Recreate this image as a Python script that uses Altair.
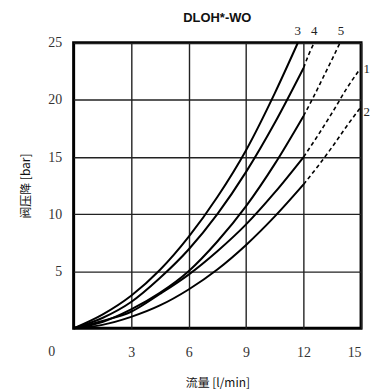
import altair as alt
import pandas as pd

# ---- data ----
x_std = [0, 1.5, 3, 4.5, 6, 7.5, 9, 10.5, 12]

c3_x = [0, 1.5, 3, 4.5, 6, 7.5, 9, 10.5, 11.7]
c3_y = [0, 1.2, 2.85, 5.1, 8.0, 11.5, 15.6, 20.6, 25.0]

c4_y = [0, 0.9, 2.3, 4.4, 6.9, 10.0, 13.7, 18.0, 22.8]
c4_dx = [12, 12.25, 12.55]
c4_dy = [22.8, 23.9, 25.0]

c5_y = [0, 0.55, 1.65, 3.1, 5.0, 7.6, 10.7, 14.4, 18.6]
c5_dx = [12, 12.5, 13, 13.5, 13.9]
c5_dy = [18.6, 20.2, 21.9, 23.6, 25.0]

c1_y = [0, 0.65, 1.45, 3.0, 4.7, 6.75, 9.1, 11.9, 15.0]
c1_dx = [12, 12.75, 13.5, 14.25, 14.9]
c1_dy = [15.0, 16.9, 18.9, 21.0, 22.6]

c2_y = [0, 0.3, 1.0, 2.0, 3.4, 5.15, 7.3, 9.8, 12.6]
c2_dx = [12, 12.75, 13.5, 14.25, 15]
c2_dy = [12.6, 14.2, 15.9, 17.7, 19.4]

curve_labels = ["3", "4", "5", "1", "2"]
label_x = [11.7, 12.55, 13.95, 15.3, 15.3]
label_y = [26.0, 26.0, 26.0, 22.7, 18.9]

x_ticks = [3, 6, 9, 12, 15]
y_ticks = [5, 10, 15, 20, 25]

rows = []
def add(name, style, xs, ys):
    for i, (a, b) in enumerate(zip(xs, ys)):
        rows.append(dict(curve=name, style=style, q=a, p=b, i=i))

add("3", "solid", c3_x, c3_y)
add("4", "solid", x_std, c4_y)
add("5", "solid", x_std, c5_y)
add("1", "solid", x_std, c1_y)
add("2", "solid", x_std, c2_y)
add("4", "dashed", c4_dx, c4_dy)
add("5", "dashed", c5_dx, c5_dy)
add("1", "dashed", c1_dx, c1_dy)
add("2", "dashed", c2_dx, c2_dy)
df = pd.DataFrame(rows)

lab_df = pd.DataFrame({"t": curve_labels, "q": label_x, "p": label_y})
zero_df = pd.DataFrame({"t": ["0"], "q": [0], "p": [0]})

xs = alt.Scale(domain=[0, 15], nice=False, zero=False)
ys = alt.Scale(domain=[0, 25], nice=False)

x_axis = alt.Axis(values=x_ticks, grid=True, gridColor="#222", gridWidth=1.4,
                  ticks=False, domain=False, labelFont="Liberation Serif",
                  labelFontSize=14, labelColor="#333", labelPadding=17,
                  title="流量 [l/min]", titleFont="Noto Sans CJK SC",
                  titleFontSize=12, titleFontWeight="normal", titleColor="#111",
                  titlePadding=19)
y_axis = alt.Axis(values=y_ticks, grid=True, gridColor="#222", gridWidth=1.4,
                  ticks=False, domain=False, labelFont="Liberation Serif",
                  labelFontSize=14, labelColor="#333", labelPadding=12,
                  title="阀压降  [bar]", titleFont="Noto Sans CJK SC",
                  titleFontSize=12, titleFontWeight="normal", titleColor="#111",
                  titlePadding=15)

base = alt.Chart(df)

solid = base.transform_filter(alt.datum.style == "solid").mark_line(
    color="black", strokeWidth=2, interpolate="monotone"
).encode(
    x=alt.X("q:Q", scale=xs, axis=x_axis),
    y=alt.Y("p:Q", scale=ys, axis=y_axis),
    detail="curve:N",
    order="i:Q",
)

dashed = base.transform_filter(alt.datum.style == "dashed").mark_line(
    color="black", strokeWidth=1.6, strokeDash=[4, 3], interpolate="monotone"
).encode(
    x=alt.X("q:Q", scale=xs),
    y=alt.Y("p:Q", scale=ys),
    detail="curve:N",
    order="i:Q",
)

labels = alt.Chart(lab_df).mark_text(
    font="Liberation Serif", fontSize=13, color="#222"
).encode(
    x=alt.X("q:Q", scale=xs),
    y=alt.Y("p:Q", scale=ys),
    text="t:N",
)

zero = alt.Chart(zero_df).mark_text(
    font="Liberation Serif", fontSize=14, color="#333", dx=-22, dy=24
).encode(
    x=alt.X("q:Q", scale=xs),
    y=alt.Y("p:Q", scale=ys),
    text="t:N",
)

chart = alt.layer(solid, dashed, labels, zero).properties(
    width=289, height=287,
    title=alt.TitleParams("DLOH*-WO", font="Liberation Sans", fontSize=13,
                          fontWeight="bold", anchor="middle", offset=1,
                          color="#111"),
    autosize=alt.AutoSizeParams(type="none"),
    padding={"left": 66, "top": 34, "right": 10, "bottom": 62},
).configure_view(
    stroke="black", strokeWidth=3
)

chart.save("out.html", embed_options={"renderer": "svg", "actions": False})
